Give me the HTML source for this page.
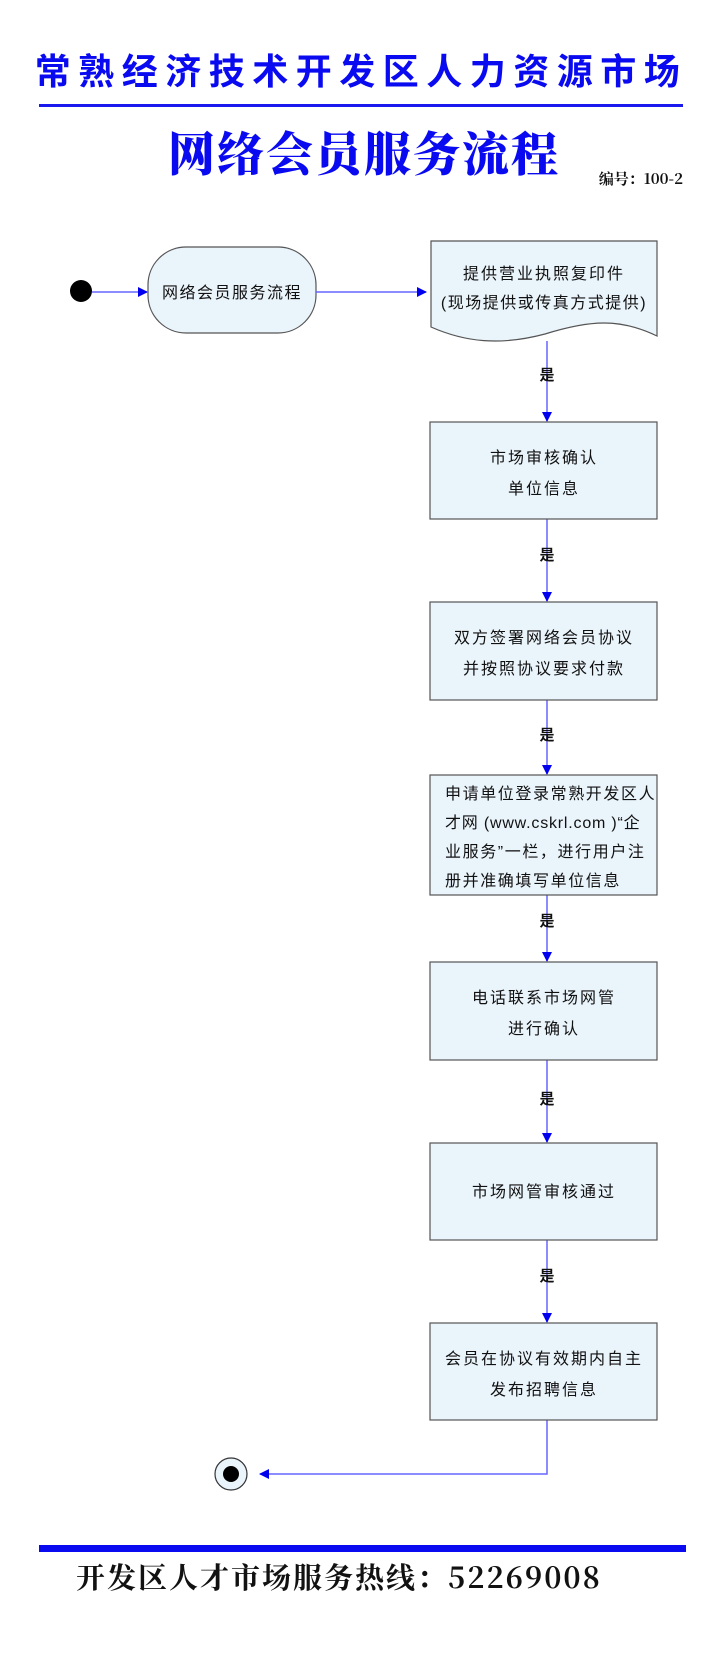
<!DOCTYPE html>
<html><head><meta charset="utf-8"><style>
body{margin:0;background:#fff;}
svg{display:block}
</style></head><body>
<svg width="720" height="1661" viewBox="0 0 720 1661" xmlns="http://www.w3.org/2000/svg">
<defs>
<marker id="ah" markerWidth="10" markerHeight="10" refX="9" refY="5" orient="auto" markerUnits="userSpaceOnUse">
<path d="M0,0 L10,5 L0,10 z" fill="#0000ee"/>
</marker>
</defs>
<g font-family="'Liberation Sans','Noto Sans CJK SC',sans-serif">
<text x="361" y="84" text-anchor="middle" font-size="36" font-weight="bold" fill="#0a0af0" letter-spacing="7.5">常熟经济技术开发区人力资源市场</text>
<rect x="39" y="104" width="644" height="3" fill="#1a1aee"/>
<text x="364" y="171" text-anchor="middle" font-size="47" font-weight="900" fill="#0a0af0" letter-spacing="2" font-family="'Noto Serif CJK SC',serif">网络会员服务流程</text>
<text x="683" y="184" text-anchor="end" font-size="15" font-weight="bold" fill="#111" font-family="'Noto Serif CJK SC',serif">编号：100-2</text>

<circle cx="81" cy="291" r="11" fill="#000"/>
<line x1="92" y1="292" x2="147" y2="292" stroke="#6666ff" stroke-width="1.5" marker-end="url(#ah)"/>
<rect x="148" y="247" width="168" height="86" rx="38" fill="#eaf4fb" stroke="#555" stroke-width="1.2"/>
<text x="232" y="298" text-anchor="middle" font-size="16" fill="#111" letter-spacing="1.5">网络会员服务流程</text>
<line x1="316" y1="292" x2="426" y2="292" stroke="#6666ff" stroke-width="1.5" marker-end="url(#ah)"/>

<path d="M431,241 L657,241 L657,336 C620,318 590,320 545,334 C500,346 465,342 431,327 Z" fill="#eaf4fb" stroke="#555" stroke-width="1.2"/>
<text x="544" y="279" text-anchor="middle" font-size="16" fill="#111" letter-spacing="2">提供营业执照复印件</text>
<text x="544" y="308" text-anchor="middle" font-size="16" fill="#111" letter-spacing="1.5">(现场提供或传真方式提供)</text>

<g stroke="#6666ff" stroke-width="1.5">
<line x1="547" y1="341" x2="547" y2="421" marker-end="url(#ah)"/>
<line x1="547" y1="519" x2="547" y2="601" marker-end="url(#ah)"/>
<line x1="547" y1="700" x2="547" y2="774" marker-end="url(#ah)"/>
<line x1="547" y1="895" x2="547" y2="961" marker-end="url(#ah)"/>
<line x1="547" y1="1060" x2="547" y2="1142" marker-end="url(#ah)"/>
<line x1="547" y1="1240" x2="547" y2="1322" marker-end="url(#ah)"/>
<polyline points="547,1420 547,1474 260,1474" fill="none" marker-end="url(#ah)"/>
</g>
<g font-size="15" font-weight="bold" fill="#111" text-anchor="middle">
<text x="547" y="380">是</text>
<text x="547" y="560">是</text>
<text x="547" y="740">是</text>
<text x="547" y="926">是</text>
<text x="547" y="1104">是</text>
<text x="547" y="1281">是</text>
</g>

<g fill="#eaf4fb" stroke="#555" stroke-width="1.2">
<rect x="430" y="422" width="227" height="97"/>
<rect x="430" y="602" width="227" height="98"/>
<rect x="430" y="775" width="227" height="120"/>
<rect x="430" y="962" width="227" height="98"/>
<rect x="430" y="1143" width="227" height="97"/>
<rect x="430" y="1323" width="227" height="97"/>
</g>
<g font-size="16" fill="#111" text-anchor="middle" letter-spacing="2">
<text x="544" y="463">市场审核确认</text>
<text x="544" y="494">单位信息</text>
<text x="544" y="643">双方签署网络会员协议</text>
<text x="544" y="674">并按照协议要求付款</text>
<text x="544" y="1003">电话联系市场网管</text>
<text x="544" y="1034">进行确认</text>
<text x="544" y="1197">市场网管审核通过</text>
<text x="544" y="1364">会员在协议有效期内自主</text>
<text x="544" y="1395">发布招聘信息</text>
</g>
<g font-size="16" fill="#111" letter-spacing="1.6">
<text x="445" y="799">申请单位登录常熟开发区人</text>
<text x="445" y="828" letter-spacing="0.8">才网 (www.cskrl.com )“企</text>
<text x="445" y="857">业服务”一栏，进行用户注</text>
<text x="445" y="886">册并准确填写单位信息</text>
</g>

<circle cx="231" cy="1474" r="16" fill="#eaf4fb" stroke="#333" stroke-width="1.2"/>
<circle cx="231" cy="1474" r="8" fill="#000"/>

<rect x="39" y="1545" width="647" height="7" fill="#0a0af0"/>
<text x="76" y="1588" font-size="29" font-weight="bold" fill="#111" letter-spacing="2" font-family="'Noto Serif CJK SC',serif">开发区人才市场服务热线：52269008</text>
</g>
</svg>
</body></html>
